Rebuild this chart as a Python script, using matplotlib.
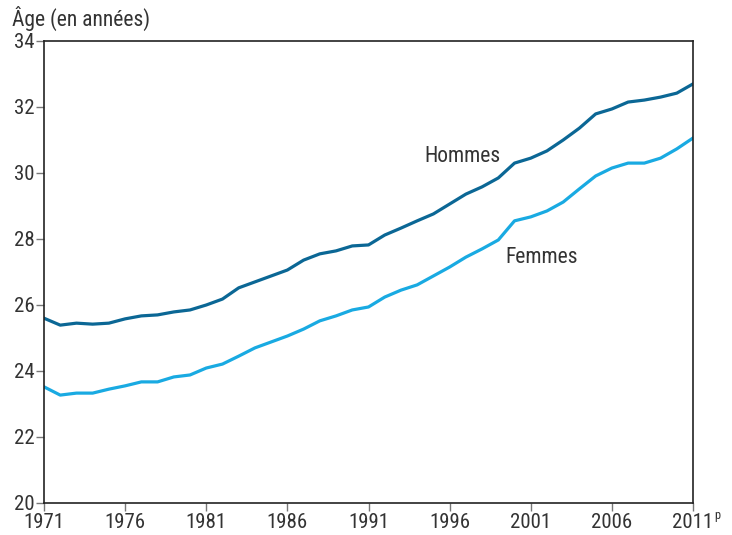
import matplotlib
matplotlib.use("Agg")
import matplotlib.pyplot as plt
from matplotlib import font_manager

years = list(range(1971, 2012))
hommes = [25.60, 25.39, 25.45, 25.42, 25.45, 25.58, 25.67, 25.70, 25.79, 25.85,
          26.00, 26.18, 26.52, 26.70, 26.88, 27.06, 27.36, 27.55, 27.64, 27.79,
          27.82, 28.12, 28.33, 28.55, 28.76, 29.06, 29.36, 29.58, 29.85, 30.30,
          30.45, 30.67, 31.00, 31.36, 31.79, 31.94, 32.15, 32.21, 32.30, 32.42,
          32.70]
femmes = [23.52, 23.27, 23.33, 23.33, 23.45, 23.55, 23.67, 23.67, 23.82, 23.88,
          24.09, 24.21, 24.45, 24.70, 24.88, 25.06, 25.27, 25.52, 25.67, 25.85,
          25.94, 26.24, 26.45, 26.61, 26.88, 27.15, 27.45, 27.70, 27.97, 28.55,
          28.67, 28.85, 29.12, 29.52, 29.91, 30.15, 30.30, 30.30, 30.45, 30.73,
          31.06]
xticks = [1971, 1976, 1981, 1986, 1991, 1996, 2001, 2006, 2011]
xticklabels = ["1971", "1976", "1981", "1986", "1991", "1996", "2001", "2006", "2011"]
yticks = [20, 22, 24, 26, 28, 30, 32, 34]

avail = {f.name for f in font_manager.fontManager.ttflist}
fam = [f for f in ["Roboto Condensed", "Liberation Sans Narrow", "DejaVu Sans"] if f in avail] or ["DejaVu Sans"]
plt.rcParams['font.family'] = fam

fig = plt.figure(figsize=(7.32, 5.35), dpi=100)
ax = fig.add_axes([44/732, 1-503/535, (693-44)/732, (503-41)/535])

c_h = "#0b6795"
c_f = "#19aae2"
ax.plot(years, hommes, color=c_h, lw=2.3, solid_joinstyle='round')
ax.plot(years, femmes, color=c_f, lw=2.3, solid_joinstyle='round')

ax.set_xlim(1971, 2011)
ax.set_ylim(20, 34)
ax.set_xticks(xticks)
ax.set_xticklabels(xticklabels)
ax.set_yticks(yticks)
for s in ax.spines.values():
    s.set_color("#222222")
    s.set_linewidth(1.2)
ax.tick_params(axis='both', direction='out', length=6, width=1, color="#777777",
               labelsize=15, labelcolor="#333333", pad=1)

ax.annotate("p", xy=(2011, 0), xycoords=('data', 'axes fraction'),
            xytext=(15.5, -9), textcoords='offset points', fontsize=9,
            color="#333333", ha='left', va='center')

ax.text(1996.8, 30.5, "Hommes", fontsize=15.5, color="#333333", ha='center', va='center')
ax.text(2001.7, 27.45, "Femmes", fontsize=15.5, color="#333333", ha='center', va='center')

fig.text(12/732, 1-18/535, "Âge (en années)", fontsize=15.5, color="#333333",
         ha='left', va='center')

fig.savefig("out.png", dpi=100)
